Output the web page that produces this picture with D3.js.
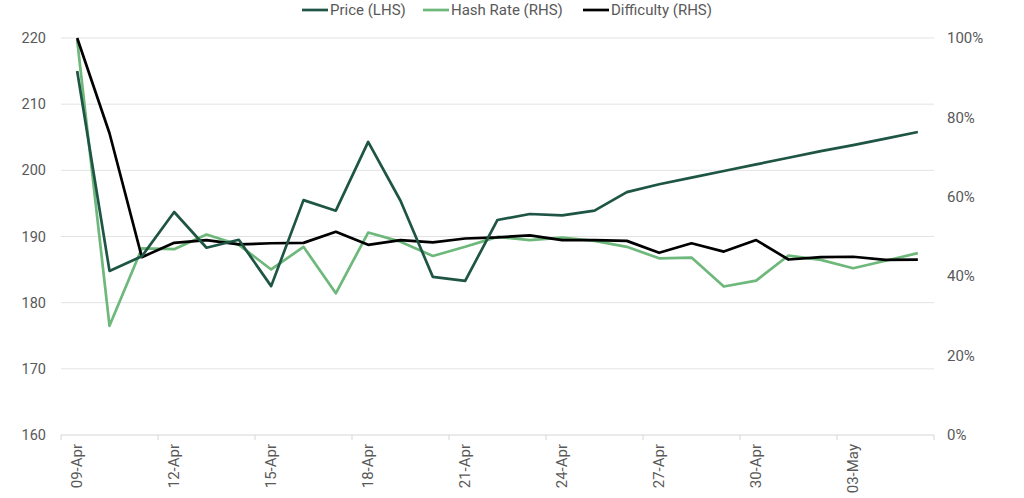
<!DOCTYPE html>
<html>
<head>
<meta charset="utf-8">
<script src="https://cdn.jsdelivr.net/npm/d3@7"></script>
<style>
  body { margin: 0; background: #fff; }
  svg { display: block; font-family: Roboto, "Noto Sans", sans-serif; }
</style>
</head>
<body>
<svg id="chart" width="1024" height="498"></svg>
<script>
const categories = ["09-Apr","10-Apr","11-Apr","12-Apr","13-Apr","14-Apr","15-Apr","16-Apr","17-Apr","18-Apr","19-Apr","20-Apr","21-Apr","22-Apr","23-Apr","24-Apr","25-Apr","26-Apr","27-Apr","28-Apr","29-Apr","30-Apr","01-May","02-May","03-May","04-May","05-May"];
const labelledCategories = ["09-Apr","12-Apr","15-Apr","18-Apr","21-Apr","24-Apr","27-Apr","30-Apr","03-May"];
const price = [215.0,184.8,187.0,193.7,188.3,189.5,182.5,195.5,193.9,204.3,195.4,183.9,183.3,192.5,193.4,193.2,193.9,196.7,197.9,198.9,199.9,200.9,201.9,202.9,203.8,204.8,205.8];
const hashRate = [0.995,0.275,0.47,0.468,0.505,0.479,0.417,0.474,0.357,0.510,0.487,0.451,0.474,0.499,0.491,0.497,0.489,0.474,0.445,0.447,0.374,0.389,0.452,0.441,0.420,0.439,0.458];
const difficulty = [1.0,0.76,0.448,0.484,0.491,0.480,0.483,0.484,0.512,0.479,0.491,0.485,0.495,0.498,0.503,0.491,0.491,0.489,0.459,0.483,0.462,0.491,0.442,0.448,0.449,0.441,0.442];
const leftTicks = [160,170,180,190,200,210,220];
const rightTicks = [0,0.2,0.4,0.6,0.8,1.0];
const seriesNames = ["Price (LHS)","Hash Rate (RHS)","Difficulty (RHS)"];

(function () {
const colors = {price: "#1e5545", hash: "#6db87a", diff: "#000000"};
const svg = d3.select("#chart");
const pLeft = 61, pRight = 934, pTop = 38, pBottom = 435;

const x = d3.scaleBand().domain(categories).range([pLeft, pRight]).padding(0);
const yL = d3.scaleLinear().domain([160, 220]).range([pBottom, pTop]);
const yR = d3.scaleLinear().domain([0, 1]).range([pBottom, pTop]);
const cx = d => x(d) + x.bandwidth() / 2;

// gridlines
svg.append("g").selectAll("line").data(leftTicks.filter(t => t !== 160)).join("line")
  .attr("x1", pLeft).attr("x2", pRight)
  .attr("y1", d => yL(d)).attr("y2", d => yL(d))
  .attr("stroke", "#e3e3e3").attr("stroke-width", 1);

// x axis line and ticks
svg.append("line").attr("x1", pLeft).attr("x2", pRight).attr("y1", pBottom).attr("y2", pBottom)
  .attr("stroke", "#d6d6d6").attr("stroke-width", 1);
const tickIdx = d3.range(0, categories.length + 1, 3);
svg.append("g").selectAll("line").data(tickIdx).join("line")
  .attr("x1", i => i < categories.length ? x(categories[i]) : pRight)
  .attr("x2", i => i < categories.length ? x(categories[i]) : pRight)
  .attr("y1", pBottom).attr("y2", pBottom + 5)
  .attr("stroke", "#d6d6d6").attr("stroke-width", 1);

// x labels
svg.append("g").selectAll("text").data(labelledCategories).join("text")
  .attr("transform", d => `translate(${cx(d)},${pBottom + 9}) rotate(-90)`)
  .attr("text-anchor", "end").attr("dy", "0.35em")
  .attr("font-size", 15).attr("fill", "#595959")
  .text(d => d);

// left axis labels
svg.append("g").selectAll("text").data(leftTicks).join("text")
  .attr("x", 46).attr("y", d => yL(d)).attr("dy", "0.35em")
  .attr("text-anchor", "end").attr("font-size", 14.5).attr("fill", "#595959")
  .text(d => d);

// right axis labels
const pct = d3.format(".0%");
svg.append("g").selectAll("text").data(rightTicks).join("text")
  .attr("x", 947).attr("y", d => yR(d)).attr("dy", "0.35em")
  .attr("text-anchor", "start").attr("font-size", 15).attr("fill", "#595959")
  .text(d => pct(d));

// lines
const lineL = d3.line().x((d, i) => cx(categories[i])).y(d => yL(d));
const lineR = d3.line().x((d, i) => cx(categories[i])).y(d => yR(d));
svg.append("path").datum(hashRate).attr("d", lineR).attr("fill", "none")
  .attr("stroke", colors.hash).attr("stroke-width", 2.7).attr("stroke-linejoin", "round");
svg.append("path").datum(difficulty).attr("d", lineR).attr("fill", "none")
  .attr("stroke", colors.diff).attr("stroke-width", 2.7).attr("stroke-linejoin", "round");
svg.append("path").datum(price).attr("d", lineL).attr("fill", "none")
  .attr("stroke", colors.price).attr("stroke-width", 2.7).attr("stroke-linejoin", "round");

// legend
const legendItems = [
  {name: seriesNames[0], color: colors.price, x: 302},
  {name: seriesNames[1], color: colors.hash, x: 423},
  {name: seriesNames[2], color: colors.diff, x: 583}
];
const lg = svg.append("g").selectAll("g").data(legendItems).join("g")
  .attr("transform", d => `translate(${d.x},10)`);
lg.append("line").attr("x1", 0).attr("x2", 26).attr("y1", 0).attr("y2", 0)
  .attr("stroke", d => d.color).attr("stroke-width", 2.7);
lg.append("text").attr("x", 28).attr("y", 0).attr("dy", "0.35em")
  .attr("font-size", 15).attr("fill", "#595959").text(d => d.name);
})();
</script>
</body>
</html>
